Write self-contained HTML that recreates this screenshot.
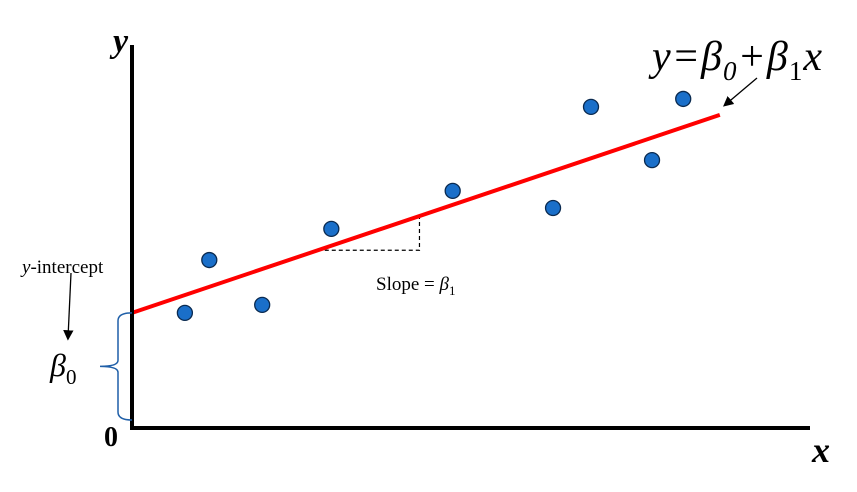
<!DOCTYPE html>
<html><head><meta charset="utf-8"><style>
body{margin:0;background:#fff}
svg{display:block;font-family:"Liberation Serif",serif}
</style></head><body>
<svg id="chart" width="857" height="492" viewBox="0 0 857 492">
<defs><marker id="ah" markerWidth="8" markerHeight="8" refX="6" refY="4" orient="auto"><path d="M0,0 L8,4 L0,8 z" fill="#000"/></marker></defs>
<g id="marks"></g>
<line x1="132" y1="45" x2="132" y2="429" stroke="#000" stroke-width="4"/>
<line x1="130" y1="428" x2="810" y2="428" stroke="#000" stroke-width="4"/>
<text x="113" y="52" font-size="34" font-weight="bold" font-style="italic">y</text>
<text x="812" y="462" font-size="36" font-weight="bold" font-style="italic">x</text>
<text x="104" y="446" font-size="28" font-weight="bold">0</text>
<text x="652" y="70" font-size="42" font-style="italic" textLength="170">y=β<tspan font-size="27" dy="10">0</tspan><tspan dy="-10">+β</tspan><tspan font-size="27" dy="10" font-style="normal">1</tspan><tspan dy="-10">x</tspan></text>
<line x1="757" y1="78" x2="725" y2="105" stroke="#000" stroke-width="1.3" marker-end="url(#ah)"/>
<text x="22" y="273" font-size="19"><tspan font-style="italic">y</tspan>-intercept</text>
<line x1="71" y1="273" x2="68" y2="338" stroke="#000" stroke-width="1.3" marker-end="url(#ah)"/>
<text x="50" y="376" font-size="32" font-style="italic">β<tspan font-size="21" dy="8" font-style="normal">0</tspan></text>
<path id="brace" fill="none" stroke="#1f5fa8" stroke-width="1.5"/>
<text x="376" y="290" font-size="19">Slope = <tspan font-style="italic">β</tspan><tspan font-size="13" dy="5">1</tspan></text>
</svg>
<script>
const pointX=[7.8,11.4,19.2,29.4,47.3,62.1,67.7,76.7,81.3];
const pointY=[30.3,44.2,32.4,52.4,62.4,57.9,84.5,70.5,86.6];
const intercept=[30.3];
const slope=[0.601];
const lineEndX=[86.7];
const slopeRun=[27.4,42.4];
function sx(v){return 132+v*6.78;}
function sy(v){return 428-v*3.8;}
const ns="http://www.w3.org/2000/svg";
const g=document.getElementById('marks');
const b0=intercept[0],b1=slope[0];
const f=x=>b0+b1*x;
const x0=slopeRun[0],x1=slopeRun[1];
const dash=document.createElementNS(ns,'path');
dash.setAttribute('d',`M${sx(x0)},${sy(f(x0))} L${sx(x1)},${sy(f(x0))} L${sx(x1)},${sy(f(x1))}`);
dash.setAttribute('fill','none');dash.setAttribute('stroke','#000');dash.setAttribute('stroke-width','1.2');dash.setAttribute('stroke-dasharray','4,3');


g.appendChild(dash);
const ln=document.createElementNS(ns,'line');
ln.setAttribute('x1',sx(0));ln.setAttribute('y1',sy(b0));
ln.setAttribute('x2',sx(lineEndX[0]));ln.setAttribute('y2',sy(f(lineEndX[0])));
ln.setAttribute('stroke','#f00');ln.setAttribute('stroke-width','4');


g.appendChild(ln);
pointX.forEach((x,i)=>{
 const c=document.createElementNS(ns,'circle');
 c.setAttribute('cx',sx(x));c.setAttribute('cy',sy(pointY[i]));c.setAttribute('r','7.5');
 c.setAttribute('fill','#1a6fc9');c.setAttribute('stroke','#0a2a50');c.setAttribute('stroke-width','1.3');
 
 
 g.appendChild(c);
});
const bTop=sy(b0),bBot=sy(0)-8,bMid=(bTop+bBot)/2,bx=118;
document.getElementById('brace').setAttribute('d',
 `M132,${bTop} Q${bx},${bTop} ${bx},${bTop+8} L${bx},${bMid-6} Q${bx},${bMid} ${bx-18},${bMid} Q${bx},${bMid} ${bx},${bMid+6} L${bx},${bBot-8} Q${bx},${bBot} 132,${bBot}`);
</script>
</body></html>
